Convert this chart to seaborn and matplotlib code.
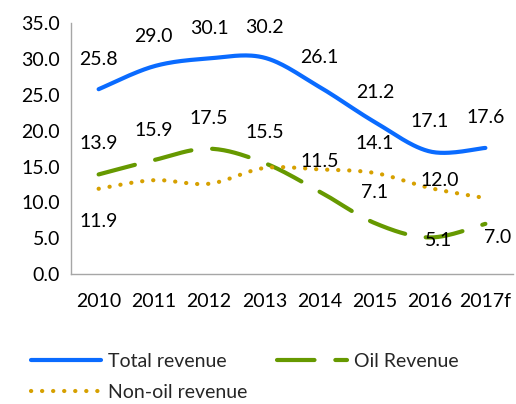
import numpy as np
import pandas as pd
import matplotlib
matplotlib.use("Agg")
import matplotlib.pyplot as plt
import seaborn as sns
from matplotlib.lines import Line2D

years = ["2010", "2011", "2012", "2013", "2014", "2015", "2016", "2017f"]
total_revenue = [25.8, 29.0, 30.1, 30.2, 26.1, 21.2, 17.1, 17.6]
oil_revenue = [13.9, 15.9, 17.5, 15.5, 11.5, 7.1, 5.1, 7.0]
nonoil_revenue = [11.9, 13.1, 12.6, 14.8, 14.6, 14.1, 12.0, 10.6]
series_names = ["Total revenue", "Oil Revenue", "Non-oil revenue"]
yticks = [0, 5, 10, 15, 20, 25, 30, 35]

sns.set_theme(style="white")
plt.rcParams["font.family"] = ["Lato", "DejaVu Sans"]
FS = 14

def smooth(xs, ys, n=30):
    # Excel-style smoothed line: cubic Bezier through every data point
    xs = np.asarray(xs, float); ys = np.asarray(ys, float)
    P = np.column_stack([xs, ys])
    out = []
    for i in range(len(P) - 1):
        p0 = P[i - 1] if i > 0 else P[i]
        p1, p2 = P[i], P[i + 1]
        p3 = P[i + 2] if i + 2 < len(P) else P[i + 1]
        c1 = p1 + (p2 - p0) / 6.0
        c2 = p2 - (p3 - p1) / 6.0
        t = np.linspace(0, 1, n, endpoint=(i == len(P) - 2))[:, None]
        seg = ((1 - t) ** 3) * p1 + 3 * ((1 - t) ** 2) * t * c1 + 3 * (1 - t) * t ** 2 * c2 + t ** 3 * p2
        out.append(seg)
    return np.vstack(out)

xpos = np.arange(len(years))
frames = []
for name, vals in zip(series_names, [total_revenue, oil_revenue, nonoil_revenue]):
    s = smooth(xpos, vals)
    frames.append(pd.DataFrame({"x": s[:, 0], "value": s[:, 1], "series": name}))
df = pd.concat(frames, ignore_index=True)

colors = {"Total revenue": "#0A6BFF", "Oil Revenue": "#669900", "Non-oil revenue": "#D6A000"}
dashes = {"Total revenue": "", "Oil Revenue": (9, 5), "Non-oil revenue": (0.05, 2.6)}

fig = plt.figure(figsize=(5.16, 4.04), dpi=100)
ax = fig.add_axes([0.1376, 0.3218, 0.8566, 0.6205])
sns.lineplot(data=df, x="x", y="value", hue="series", style="series",
             palette=colors, dashes=dashes, linewidth=3, sort=False,
             estimator=None, ax=ax, legend=False)
for line in ax.get_lines():
    line.set_dash_capstyle("round")
    line.set_solid_capstyle("round")

ax.set_xlim(-0.5, len(years) - 0.5)
ax.set_ylim(0, 35)
ax.set_yticks(yticks)
ax.set_yticklabels([f"{v:.1f}" for v in yticks], fontsize=FS, color="#000000")
ax.set_xticks(xpos)
ax.set_xticklabels(years, fontsize=FS, color="#000000")
ax.set_xticks(np.arange(-0.5, len(years)), minor=True)
ax.tick_params(axis="x", which="major", length=0, pad=14)
ax.tick_params(axis="x", which="minor", length=5, width=1, color="#A6A6A6", direction="out")
ax.tick_params(axis="y", length=5, width=1, color="#A6A6A6", direction="out", pad=3)
ax.set_xlabel(""); ax.set_ylabel("")
for side in ["top", "right"]:
    ax.spines[side].set_visible(False)
for side in ["left", "bottom"]:
    ax.spines[side].set_color("#A6A6A6")
    ax.spines[side].set_linewidth(1)

def lab(i, v, dx, dy):
    ax.annotate(f"{v:.1f}", (xpos[i], v), xytext=(dx, dy), textcoords="offset pixels",
                ha="center", va="center", fontsize=FS, color="#000000", annotation_clip=False)

for i, v in enumerate(total_revenue):
    lab(i, v, 0, 30)
oil_off = [(0, 31), (0, 30), (0, 30), (0, 30), (0, 30), (0, 31), (8, -3), (12, -14)]
for i, v in enumerate(oil_revenue):
    lab(i, v, *oil_off[i])
lab(0, nonoil_revenue[0], 0, -33)
lab(5, nonoil_revenue[5], 0, 30)
lab(6, nonoil_revenue[6], 10, 8)

order = ["Total revenue", "Non-oil revenue", "Oil Revenue"]
handles = []
for name in order:
    h = Line2D([], [], color=colors[name], linewidth=3, solid_capstyle="round", dash_capstyle="round")
    if dashes[name]:
        h.set_dashes(dashes[name])
    handles.append(h)
fig.legend(handles, order, loc="upper left", bbox_to_anchor=(0.06, 0.127),
           ncol=2, frameon=False, fontsize=FS, handlelength=3.6, handletextpad=0.35,
           columnspacing=1.55, labelspacing=0.75, borderaxespad=0, borderpad=0)

fig.savefig("out.png", dpi=100)
